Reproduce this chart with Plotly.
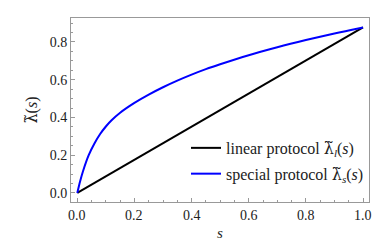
import plotly.graph_objects as go

s_linear = [0.0, 1.0]
lam_linear = [0.0, 0.877]

s_special = [0.0, 0.01, 0.02, 0.04, 0.06, 0.08, 0.10, 0.12, 0.15, 0.20, 0.25, 0.30,
             0.35, 0.40, 0.45, 0.50, 0.60, 0.70, 0.80, 0.90, 1.00]
lam_special = [0.0, 0.062, 0.115, 0.200, 0.262, 0.312, 0.352, 0.385, 0.425, 0.477, 0.521, 0.560,
               0.595, 0.627, 0.656, 0.682, 0.730, 0.772, 0.810, 0.845, 0.877]

x_ticks = [0.0, 0.2, 0.4, 0.6, 0.8, 1.0]
x_tick_labels = ["0.0", "0.2", "0.4", "0.6", "0.8", "1.0"]
y_ticks = [0.0, 0.2, 0.4, 0.6, 0.8]
y_tick_labels = ["0.0", "0.2", "0.4", "0.6", "0.8"]

font_family = "Liberation Serif"
txt_color = "#222222"
lam_t = "<span style=\"font-family:'DejaVu Serif'\">λ\u0303</span>"

fig = go.Figure()
fig.add_trace(go.Scatter(x=s_linear, y=lam_linear, mode="lines",
                         line=dict(color="black", width=2), legendgroup="a",
                         name="linear protocol " + lam_t + "<sub><i>l</i></sub>(<i>s</i>)"))
fig.add_trace(go.Scatter(x=s_special, y=lam_special, mode="lines", line_shape="spline",
                         line=dict(color="#0000ff", width=2, smoothing=0.8), legendgroup="b",
                         name="special protocol " + lam_t + "<sub><i>s</i></sub>(<i>s</i>)"))

axis_common = dict(showline=True, mirror=True, linecolor="#999999", linewidth=1,
                   ticks="inside", ticklen=4, tickcolor="#999999", showgrid=False,
                   zeroline=False, tickfont=dict(family=font_family, size=14, color=txt_color))

fig.update_xaxes(range=[-0.022, 1.021], tickvals=x_ticks, showticklabels=False,
                 minor=dict(ticks="inside", ticklen=2, tickcolor="#999999", dtick=0.05, tick0=0),
                 title=dict(text="<i>s</i>", font=dict(family=font_family, size=15, color=txt_color),
                            standoff=25),
                 **axis_common)
fig.update_yaxes(range=[-0.048, 0.927], tickvals=y_ticks, ticktext=y_tick_labels,
                 minor=dict(ticks="inside", ticklen=2, tickcolor="#999999", dtick=0.05, tick0=0),
                 title=dict(text=lam_t + "(<i>s</i>)", font=dict(family=font_family, size=16, color=txt_color),
                            standoff=8),
                 **axis_common)

for v, lab in zip(x_ticks, x_tick_labels):
    fig.add_annotation(x=v, xref="x", y=0, yref="paper", yanchor="top", xanchor="center",
                       yshift=-4, text=lab, showarrow=False,
                       font=dict(family=font_family, size=14, color=txt_color))

fig.update_layout(
    width=382, height=242,
    margin=dict(l=63, r=21, t=10, b=48),
    paper_bgcolor="white", plot_bgcolor="white",
    showlegend=True,
    legend=dict(x=1.0, xanchor="right", y=0.06, yanchor="bottom",
                bgcolor="rgba(255,255,255,0)", itemwidth=30,
                font=dict(family=font_family, size=16, color=txt_color),
                traceorder="grouped", tracegroupgap=2),
)

fig.write_html("out.html")
